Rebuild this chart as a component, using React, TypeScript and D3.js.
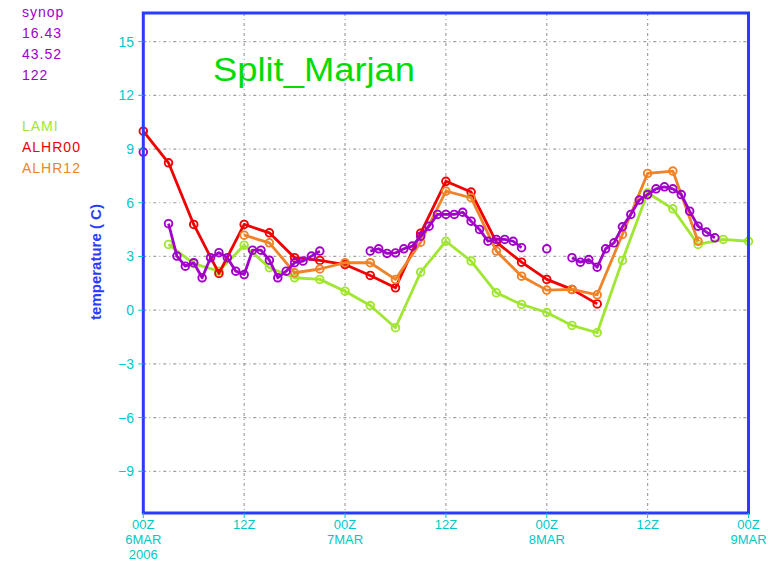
import React from "react";
import * as d3 from "d3";

// hours since 00Z 6MAR2006
const lamiHours = [3, 6, 9, 12, 15, 18, 21, 24, 27, 30, 33, 36, 39, 42, 45, 48, 51, 54, 57, 60, 63, 66, 69, 72];
const lamiValues = [3.67, 2.6, 2.18, 3.63, 2.37, 1.81, 1.72, 1.06, 0.26, -0.98, 2.12, 3.85, 2.74, 0.97, 0.32, -0.13, -0.85, -1.26, 2.78, 6.56, 5.66, 3.67, 3.95, 3.85];

const alhr00Hours = [0, 3, 6, 9, 12, 15, 18, 21, 24, 27, 30, 33, 36, 39, 42, 45, 48, 51, 54];
const alhr00Values = [10.0, 8.23, 4.79, 2.05, 4.79, 4.32, 2.93, 2.78, 2.55, 1.94, 1.25, 4.3, 7.2, 6.6, 3.8, 2.68, 1.72, 1.16, 0.35];

const alhr12Hours = [12, 15, 18, 21, 24, 27, 30, 33, 36, 39, 42, 45, 48, 51, 54, 57, 60, 63, 66];
const alhr12Values = [4.19, 3.76, 2.09, 2.3, 2.65, 2.65, 1.72, 3.8, 6.65, 6.28, 3.3, 1.9, 1.12, 1.16, 0.86, 4.23, 7.64, 7.77, 3.85];

const synopHours = d3.range(0, 69);
const synopValues: (number | null)[] = [
  8.83, null, null,
  4.83, 3.02, 2.46, 2.65, 1.81, 2.93, 3.21, 2.93, 2.18, 1.99, 3.35, 3.35, 2.79, 1.81, 2.18, 2.65, 2.74, 3.02, 3.3,
  null, null, null, null, null,
  3.3, 3.43, 3.17, 3.2, 3.43, 3.58, 4.13, 4.69, 5.35, 5.35, 5.35, 5.47, 4.97, 4.51, 3.85, 3.95, 3.95, 3.85, 3.49,
  null, null,
  3.43,
  null, null,
  2.93, 2.68, 2.83, 2.4, 3.43, 3.76, 4.66, 5.35, 6.15, 6.46, 6.78, 6.89, 6.78, 6.46, 5.53, 4.69, 4.36, 4.04,
];

const yTicks = [-9, -6, -3, 0, 3, 6, 9, 12, 15];
const xTickHours = [0, 12, 24, 36, 48, 60, 72];
const xTickLabels = ["00Z", "12Z", "00Z", "12Z", "00Z", "12Z", "00Z"];
const xTickDays = ["6MAR", "", "7MAR", "", "8MAR", "", "9MAR"];
const xTickYears = ["2006", "", "", "", "", "", ""];

const stationInfo = ["synop", "16.43", "43.52", "122"];
const legendNames = ["LAMI", "ALHR00", "ALHR12"];

const PURPLE = "#a000c8";
const GREEN = "#a0e632";
const RED = "#f00000";
const ORANGE = "#f08228";
const CYAN = "#00c8c8";
const BLUE = "#2a3cff";

const width = 780;
const height = 565;
const left = 143.3;
const right = 748.5;
const top = 13;
const bottom = 513;

function Series({ hours, values, color, x, y }) {
  const pts = hours.map((h, i) => [h, values[i]]);
  const line = d3
    .line()
    .defined((d) => d[1] !== null)
    .x((d) => x(d[0]))
    .y((d) => y(d[1]));
  return (
    <g>
      <path d={line(pts)} fill="none" stroke={color} strokeWidth={2.8} strokeLinejoin="round" />
      {pts
        .filter((d) => d[1] !== null)
        .map((d, i) => (
          <circle key={i} cx={x(d[0])} cy={y(d[1])} r={3.8} fill="none" stroke={color} strokeWidth={1.9} />
        ))}
    </g>
  );
}

export default function App() {
  const x = d3.scaleLinear().domain([0, 72]).range([left, right]);
  const y = d3.scaleLinear().domain([-11.33, 16.6]).range([bottom, top]);
  const font = "'Liberation Sans', Arial, sans-serif";

  return (
    <svg width={width} height={height} style={{ position: "absolute", left: 0, top: 0, background: "#fff" }}>
      {/* grid */}
      {yTicks.map((t) => (
        <line key={"gy" + t} x1={left} x2={right} y1={y(t)} y2={y(t)} stroke="#a0a0a0" strokeWidth={1.2} strokeDasharray="3,3,1,3" />
      ))}
      {xTickHours.slice(1, -1).map((h) => (
        <line key={"gx" + h} x1={x(h)} x2={x(h)} y1={top} y2={bottom} stroke="#a0a0a0" strokeWidth={1.2} strokeDasharray="3,3,1,3" />
      ))}

      {/* title */}
      <text x={213} y={81} fontFamily={font} fontSize={33} fill="#00dc00" textLength={202} lengthAdjust="spacingAndGlyphs">
        Split_Marjan
      </text>

      <Series hours={lamiHours} values={lamiValues} color={GREEN} x={x} y={y} />
      <Series hours={alhr00Hours} values={alhr00Values} color={RED} x={x} y={y} />
      <Series hours={alhr12Hours} values={alhr12Values} color={ORANGE} x={x} y={y} />
      <Series hours={synopHours} values={synopValues} color={PURPLE} x={x} y={y} />

      {/* frame */}
      <rect x={left} y={top} width={right - left} height={bottom - top} fill="none" stroke={BLUE} strokeWidth={3} />

      {/* y axis */}
      {yTicks.map((t) => (
        <g key={"yt" + t}>
          <line x1={left - 5} x2={left} y1={y(t)} y2={y(t)} stroke={CYAN} strokeWidth={1} />
          <text x={134} y={y(t) + 5} textAnchor="end" fontFamily={font} fontSize={14} fill={CYAN}>
            {t < 0 ? "\u2212" + Math.abs(t) : t}
          </text>
        </g>
      ))}
      <text
        transform={`translate(101,${262}) rotate(-90)`}
        textAnchor="middle"
        fontFamily={font}
        fontSize={15}
        fontWeight="bold"
        fill={BLUE}
      >
        temperature ( C)
      </text>

      {/* x axis */}
      {xTickHours.map((h, i) => (
        <g key={"xt" + h}>
          <line x1={x(h)} x2={x(h)} y1={bottom} y2={bottom + 5} stroke={CYAN} strokeWidth={1} />
          <text x={x(h)} y={529} textAnchor="middle" fontFamily={font} fontSize={13} fill={CYAN}>
            {xTickLabels[i]}
          </text>
          <text x={x(h)} y={544} textAnchor="middle" fontFamily={font} fontSize={13} fill={CYAN}>
            {xTickDays[i]}
          </text>
          <text x={x(h)} y={559} textAnchor="middle" fontFamily={font} fontSize={13} fill={CYAN}>
            {xTickYears[i]}
          </text>
        </g>
      ))}

      {/* station info + legend */}
      {stationInfo.map((s, i) => (
        <text key={s} x={22} y={17 + i * 21} fontFamily={font} fontSize={14} fill={PURPLE} letterSpacing={1}>
          {s}
        </text>
      ))}
      {legendNames.map((s, i) => (
        <text key={s} x={22} y={131 + i * 21} fontFamily={font} fontSize={14} fill={[GREEN, RED, ORANGE][i]} letterSpacing={1}>
          {s}
        </text>
      ))}
    </svg>
  );
}
